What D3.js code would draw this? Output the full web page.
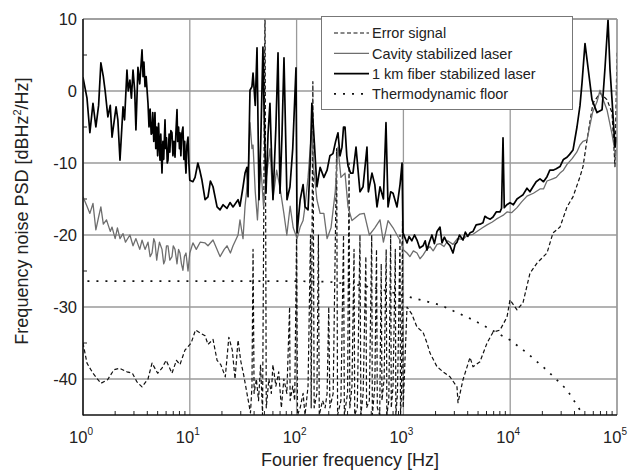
<!DOCTYPE html>
<meta charset="utf-8">
<script src="https://d3js.org/d3.v7.min.js"></script>
<style>
body { margin: 0; background: #fff; }
svg { font-family: "Liberation Sans", Arial, sans-serif; }
</style>
<svg id="chart" width="631" height="474"></svg>
<script>

// frequency [Hz] and PSD [dBHz^2/Hz]
var fibF  = [1,1.09,1.16,1.24,1.32,1.4,1.47,1.55,1.61,1.71,1.8,1.87,2.04,2.12,2.22,2.37,2.45,2.58,2.65,2.75,2.84,2.94,3.05,3.13,3.27,3.4,3.57,3.65,3.72,3.81,3.9,4.06,4.15,4.25,4.35,4.43,4.5,4.6,4.72,4.8,4.9,5.0,5.1,5.2,5.26,5.35,5.49,5.6,5.7,5.86,5.95,6.05,6.15,6.25,6.4,6.5,6.65,6.81,6.95,7.1,7.27,7.4,7.59,7.7,7.85,8.0,8.09,8.25,8.4,8.63,8.8,8.95,9.1,9.21,9.4,9.62,9.8,10,10.7,11.2,11.9,12.4,13,13.9,14.8,15.6,16.5,18,19.2,20.5,22.3,23.8,25.4,28.3,29.5,31.5,32.9,34.3,35.1,36.6,38.2,39.1,41,42.6,44.5,46,48.4,49.5,51.7,54,56.3,58,60.1,64,67,69.9,73,76.2,81.3,86.7,92,98.7,101,108,115,120,128,134,139,145,155,166,180,193,205,219,232,244,255,266,275,284,295,303,320,337,360,392,419,456,470,508,540,566,604,650,687,718,760,800,871,930,971,991,1081,1130,1200,1270,1341,1420,1527,1600,1663,1750,1850,1950,2064,2203,2298,2420,2550,2731,2913,3050,3176,3350,3614,3800,4000,4205,4487,4800,5214,5562,5800,6067,6500,6903,7400,8023,8300,8565,8800,9300,9957,10700,11580,12350,13200,14360,15300,16340,17500,19010,20500,22110,23500,25170,27000,29260,31500,34040,36000,38730,42200,45050,47010,50150,53490,58300,64980,72440,77270,82410,86000,89800,95730,100000];
var fibDb = [1.9,-1,-5.8,-1.7,-5,-2,3.9,2,0.1,-3.6,-2,-6.4,-2.2,-4,-9.6,-2.2,-4,2.9,0,1.5,-1,2.9,0,-5.4,3.3,1,5.7,2,4,0.6,2,-1.7,-5,-2.5,-6,-5.8,-3,-7,-3,-8,-5,-9,-4.5,-8,-9.6,-6,-11.4,-7,-9.5,-4,-8,-6.5,-10,-9.6,-6,-8.5,-5.5,-5.8,-9,-7,-9.2,-6,-2.6,-7,-5,-8,-5.8,-9,-6,-5,-9.5,-7,-10,-11.4,-7.5,-6.4,-10,-12.4,-12.6,-12,-10,-11,-12.4,-15.1,-14.7,-12.5,-13.3,-16.1,-16.5,-15.8,-16.3,-15.5,-16.1,-15.1,-16,-13.3,-11.4,-10.6,-14.7,0.1,0.6,2.5,-2,6,-15.1,-8,6.1,-2,-14.2,-6,-1.7,-8,-15.1,-5,5.3,-14.2,-6,4.6,-15.1,-13.3,-8,3.2,-19.7,-15.1,-13,-16.1,-16.5,-10,-1.7,-6,-13.3,-10.6,-12,-11,-9,-8.7,-7,-5.8,-9,-7.8,-5,-5,-9,-10.4,-11.4,-11.4,-7.8,-14,-13.3,-7.8,-14,-11.4,-13,-16.1,-13.3,-15,-4.4,-16.1,-14,-14.2,-16.1,-13,-10,-19.7,-21.1,-20.2,-20.8,-20,-20.7,-21.8,-21.5,-20.8,-22.1,-21,-20,-21.2,-19.5,-18.9,-21.1,-20.3,-21,-21.5,-22.5,-21.3,-21,-20,-20.7,-19.6,-20.2,-19.7,-19.5,-18.6,-18.5,-18.3,-17.4,-17.6,-17.8,-17.5,-16.8,-16.8,-16.3,-6.5,-16.2,-15.8,-15.5,-15.8,-15,-14.7,-14.4,-13.5,-14,-13.3,-12.6,-12.2,-12.6,-11.9,-11,-11,-10.8,-10.5,-9.5,-9.2,-8.8,-8.2,-5,-2,1.1,6.6,3.3,-1.2,-3,-2.6,3.3,9.9,3,-1.2,-7.8,-6.4];

var cavF  = [1,1.09,1.16,1.24,1.32,1.4,1.47,1.55,1.66,1.8,1.87,2,2.1,2.22,2.37,2.5,2.75,2.94,3.13,3.4,3.57,3.81,4.06,4.25,4.43,4.6,4.72,4.9,5,5.2,5.49,5.7,5.86,6.05,6.25,6.5,6.81,7.0,7.27,7.59,7.85,8.09,8.35,8.63,8.9,9.21,9.62,10,10.7,11.5,12.5,13.9,14.8,16.5,18,19.2,21,22.3,24,25.4,28.3,29.5,31.5,32.9,35.1,36.6,38.2,39.1,41,43,46,49,52,56.3,60.1,65,70,76,81,87,93,101,108,115,120,128,139,145,155,166,180,193,210,230,244,260,284,303,330,392,430,480,540,604,650,718,800,871,950,991,1081,1150,1240,1341,1430,1527,1650,1775,1900,2064,2203,2400,2600,2913,3200,3614,4000,4487,5000,5500,6067,6800,7400,8023,8700,9334,10300,11580,12800,14360,16500,19010,20500,22110,25000,27000,29260,31500,34040,38000,42000,45050,48000,52370,59000,64980,69330,72440,80540,89800,93000,97000,100000];
var cavDb = [-14.7,-16,-17,-15.6,-19.3,-17.5,-16.1,-18.5,-17.9,-19.5,-18.9,-20.5,-19,-20.5,-19.8,-21,-20,-21.5,-20.5,-22,-20.7,-22,-21,-23,-22.5,-20.5,-21,-23.5,-22.5,-21,-22,-24,-23.5,-21.5,-21.5,-23.5,-23,-21.5,-22,-24,-22,-22.5,-24,-24.9,-23,-22.5,-25,-22.5,-21.1,-22,-21,-21.1,-21.5,-20.7,-22,-23,-22,-21.5,-22.5,-21.5,-20,-17.9,-20.5,-16,-12,-4.4,-8,-7.5,-14,-17.9,-10,-16,-12,-8,-15,-11,-13.5,-17,-20,-16,-19,-20.5,-18.9,-18,-16,-12,-5,-11,-15.1,-17,-17,-20.5,-19,-14,-7.8,-12,-11.4,-16.1,-18,-17.1,-17,-20,-19,-17.9,-21,-18,-19,-20,-21,-22,-22.5,-23,-22.2,-22.5,-23.3,-22.8,-22,-21.6,-22.2,-21.3,-21.2,-21.6,-20.8,-21.3,-20.5,-20.6,-20,-19.9,-19.4,-19,-18.6,-18.2,-17.8,-17.5,-17.2,-16.8,-16.9,-16.2,-15.4,-14.6,-14.2,-13.6,-13.6,-12.5,-12.2,-12,-11.4,-11,-10.2,-9.4,-8.5,-7.5,-7,-6.8,-3,-1.5,0.1,-0.8,-2.6,-6,-7.3,-9,-8];

var errF  = [1,1.09,1.24,1.47,1.7,1.95,2.2,2.58,2.9,3.2,3.57,4.06,4.43,5,5.49,6,6.81,7.5,8.09,9,10.3,11.3,12.5,13.9,14.8,16.5,18,19.5,21.5,23.2,25,26.5,28.3,30,32,34.3,37,38.2,39.1,40,42,44,46,48,50.6,52,55,58,60,64,68,72,76,81,86,87,92,96,100,102,108,115,120,128,135,137,142,146,155,160,163,175,185,193,200,205,220,237,242,260,275,280,300,310,315,330,345,350,370,392,400,420,445,452,480,505,512,540,560,570,600,620,630,660,690,700,730,760,770,800,840,850,880,930,940,960,980,995,1081,1200,1341,1527,1663,1775,2064,2350,2731,3176,3245,3614,4205,4487,5214,6067,6903,8023,9334,9957,11580,13180,15320,17820,22110,25170,29260,34040,38730,45050,48060,52370,59570,69330,80540,89800,95730,100000];
var errDb = [-35,-37.8,-39.2,-40.6,-40.1,-38.7,-38.5,-39,-39.2,-40.4,-41.1,-40,-37.8,-39.2,-38.5,-37.4,-39.2,-37.4,-38,-36,-35,-33.2,-33.6,-34,-35.2,-34.5,-37.4,-38,-39.7,-34.2,-36,-40,-34.6,-37.5,-39.5,-42,-44.7,-41,-22,-42,-40,-43,-38,-45,12,-44,-40,-42,-38,-41,-39,-44,-40,-42,-30,-43,-41,-43,-20,-45,-44,-42,-45,-41,-20,-44,1.3,-44,-42,-20,-45,-43,-44,-42,-30,-44,-42,-8,-45,-43,-20,-45,-42,-10,-44,-41,-22,-45,-44,-20,-45,-42,-23,-44,-43,-20,-45,-41,-22,-44,-45,-24,-43,-40,-22,-45,-43,-20,-44,-41,-22,-45,-42,-20,-45,-42,-18,-44,-30,-31,-32.8,-33.5,-35,-36.4,-38.3,-39,-39.7,-41.1,-43.3,-40.1,-37,-38.3,-37.6,-35,-33.5,-33.2,-31.4,-29,-30.4,-29.4,-25.3,-23.9,-22.5,-19.7,-18.9,-16.1,-14.7,-11.9,-10.5,-6.8,-1.7,-0.3,-1.2,-3,-10.5,5.3];

var thF  = [1.1,100,200,400,600,1000,2200,4500,10000,14400,22100,34000,45000,56000];
var thDb = [-26.4,-26.4,-26.5,-27,-27.5,-28.4,-29.7,-31.8,-34.6,-36.4,-38.8,-41.5,-44.3,-46];

var xTicks = [1,10,100,1000,10000,100000];
var xExp   = ["0","1","2","3","4","5"];
var yTicks = [10,0,-10,-20,-30,-40];

var legendNames = ["Error signal","Cavity stabilized laser","1 km fiber stabilized laser","Thermodynamic floor"];

var plotL = 83, plotR = 617, plotT = 19, plotB = 415;

var x = d3.scaleLog().domain([1,1e5]).range([plotL,plotR]);
var y = d3.scaleLinear().domain([-45,10]).range([plotB,plotT]);

var svg = d3.select("#chart");

svg.append("defs").append("clipPath").attr("id","plotclip")
  .append("rect").attr("x",plotL).attr("y",plotT).attr("width",plotR-plotL).attr("height",plotB-plotT);

// grid
svg.selectAll(".vgrid").data(xTicks).enter()
  .append("line").attr("class","vgrid")
  .attr("x1",function(d){return x(d)}).attr("x2",function(d){return x(d)})
  .attr("y1",plotT).attr("y2",plotB)
  .attr("style","stroke:#9a9a9a;stroke-width:1.3");
svg.selectAll(".hgrid").data(yTicks).enter()
  .append("line").attr("class","hgrid")
  .attr("x1",plotL).attr("x2",plotR)
  .attr("y1",function(d){return y(d)}).attr("y2",function(d){return y(d)})
  .attr("style","stroke:#9a9a9a;stroke-width:1.3");

// minor ticks
var minorX = [];
for (var e = 0; e < 5; e++) for (var k = 2; k < 10; k++) minorX.push(k*Math.pow(10,e));
svg.selectAll(".mx").data(minorX).enter()
  .append("line")
  .attr("x1",function(d){return x(d)}).attr("x2",function(d){return x(d)})
  .attr("y1",plotB).attr("y2",plotB-4)
  .attr("style","stroke:#222;stroke-width:1");
var minorY = [5,-5,-15,-25,-35];
svg.selectAll(".my").data(minorY).enter()
  .append("line")
  .attr("x1",plotL).attr("x2",plotL+4)
  .attr("y1",function(d){return y(d)}).attr("y2",function(d){return y(d)})
  .attr("style","stroke:#222;stroke-width:1");

var line = d3.line()
  .x(function(d){return x(d[0])})
  .y(function(d){return y(d[1])});

function series(f, v, style) {
  svg.append("path")
    .datum(d3.zip(f, v))
    .attr("clip-path","url(#plotclip)")
    .attr("d", line)
    .attr("style","fill:none;stroke-linejoin:round;" + style);
}

var thStyle  = "stroke:#111;stroke-width:1.7;stroke-dasharray:2,7";
var errStyle = "stroke:#111;stroke-width:1.2;stroke-dasharray:4,2.5";
var cavStyle = "stroke:#6e6e6e;stroke-width:1.3";
var fibStyle = "stroke:#000;stroke-width:1.7";

series(thF, thDb, thStyle);
series(errF, errDb, errStyle);
series(cavF, cavDb, cavStyle);
series(fibF, fibDb, fibStyle);

// frame
svg.append("line").attr("x1",plotL).attr("x2",plotR).attr("y1",plotT).attr("y2",plotT).attr("style","stroke:#9a9a9a;stroke-width:1.3");
svg.append("line").attr("x1",plotR).attr("x2",plotR).attr("y1",plotT).attr("y2",plotB).attr("style","stroke:#9a9a9a;stroke-width:1.3");
svg.append("line").attr("x1",plotL).attr("x2",plotL).attr("y1",plotT).attr("y2",plotB+0.5).attr("style","stroke:#111;stroke-width:1.5");
svg.append("line").attr("x1",plotL).attr("x2",plotR).attr("y1",plotB).attr("y2",plotB).attr("style","stroke:#111;stroke-width:1.5");

// tick labels
svg.selectAll(".ylab").data(yTicks).enter()
  .append("text")
  .attr("x",77).attr("y",function(d){return y(d)}).attr("dy","0.36em")
  .attr("text-anchor","end")
  .attr("style","font-size:16.5px;fill:#222")
  .text(function(d){return d});

var xl = svg.selectAll(".xlab").data(xTicks).enter()
  .append("text")
  .attr("x",function(d){return x(d)-2}).attr("y",443)
  .attr("text-anchor","middle")
  .attr("style","font-size:16.5px;fill:#222");
xl.append("tspan").text("10");
xl.append("tspan").attr("dy",-8).attr("style","font-size:10px").text(function(d,i){return xExp[i]});

// axis titles
svg.append("text").attr("x",350).attr("y",466).attr("text-anchor","middle")
  .attr("style","font-size:18px;fill:#222").text("Fourier frequency [Hz]");
var yt = svg.append("text").attr("transform","translate(28,211) rotate(-90)").attr("text-anchor","middle")
  .attr("style","font-size:18px;fill:#222");
yt.append("tspan").text("Frequency noise PSD [dBHz");
yt.append("tspan").attr("dy",-7).attr("style","font-size:11px").text("2");
yt.append("tspan").attr("dy",7).text("/Hz]");

// legend
var lg = svg.append("g");
lg.append("rect").attr("x",321.5).attr("y",16.5).attr("width",251).attr("height",93)
  .attr("style","fill:#fff;stroke:#777;stroke-width:1");
var legStyles = [errStyle, cavStyle, fibStyle, "stroke:#111;stroke-width:1.6;stroke-dasharray:2,7"];
var rows = lg.selectAll(".row").data(legendNames).enter().append("g")
  .attr("transform",function(d,i){return "translate(0," + (33 + i*20.3) + ")"});
rows.append("line").attr("x1",334).attr("x2",369).attr("y1",0).attr("y2",0)
  .attr("style",function(d,i){return legStyles[i]});
rows.append("text").attr("x",372).attr("y",0).attr("dy","0.36em")
  .attr("style","font-size:14.5px;fill:#222").text(function(d){return d});

</script>
